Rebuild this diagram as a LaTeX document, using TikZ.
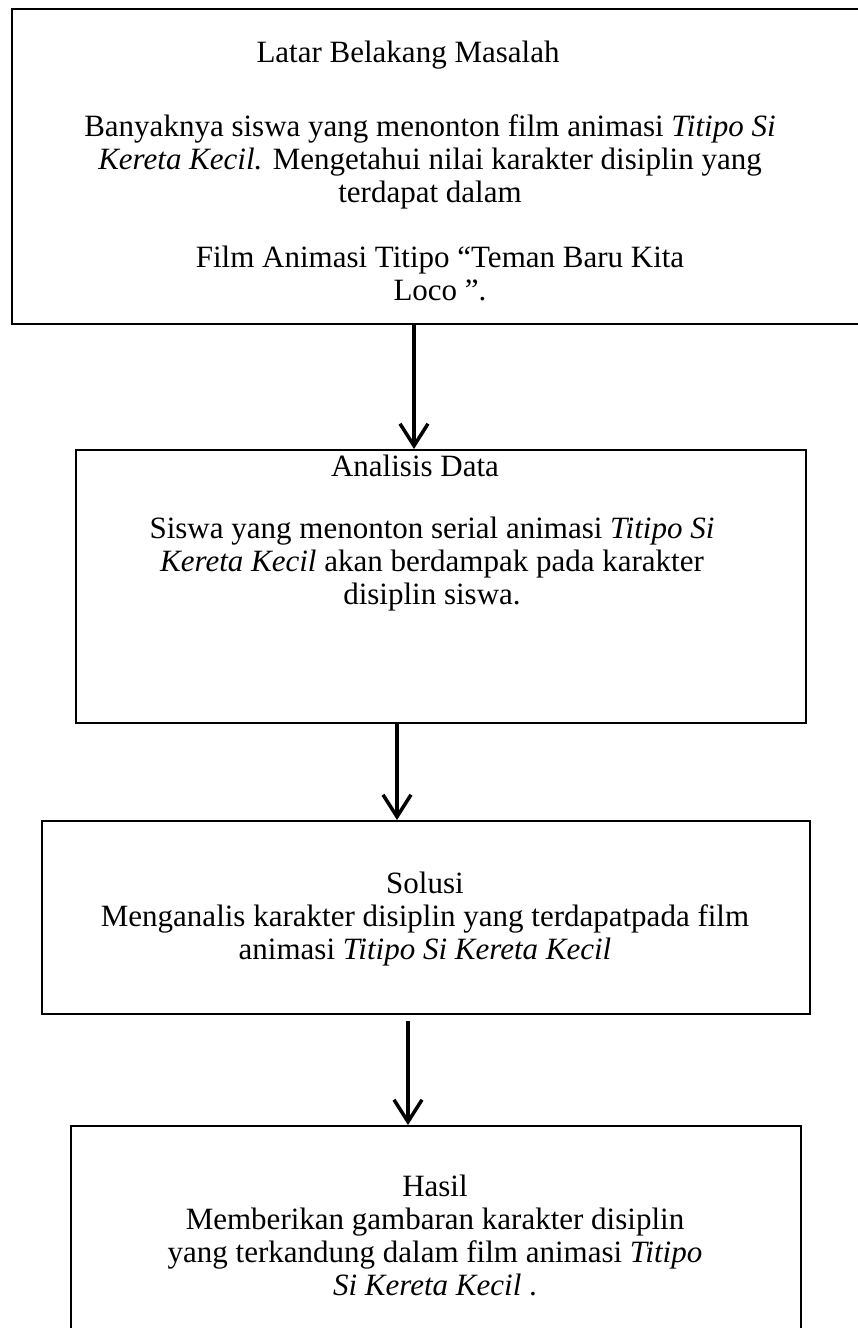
\documentclass[tikz,border=0pt]{standalone}
\usepackage{fontspec}
\setmainfont{Liberation Serif}
\usetikzlibrary{arrows.meta,positioning}

\begin{document}
\begin{tikzpicture}[x=1pt,y=-1pt,>={Straight Barb[length=22pt,width=28pt,line width=3.5pt]}]
\tikzset{
  kotak/.style={draw,line width=2pt,inner sep=0pt,anchor=north west},
  teks/.style={align=center,anchor=base,font=\fontsize{31}{33}\selectfont,inner sep=0pt},
  panah/.style={->,line width=4.5pt},
}
\useasboundingbox (0,0) rectangle (858,1328);
\clip (0,0) rectangle (858,1328);

% kotak
\node[kotak,minimum width=880pt,minimum height=315pt] (latar) at (11,8) {};
\node[kotak,minimum width=730pt,minimum height=273pt] (analisis) at (75,449) {};
\node[kotak,minimum width=768pt,minimum height=193pt] (solusi) at (41,820) {};
\node[kotak,minimum width=730pt,minimum height=220pt] (hasil) at (70,1125) {};

% isi kotak (anchor base = baris terakhir)
\node[teks] (t1) at (408,62) {Latar Belakang Masalah};
\node[teks] (t2) at (430,202) {Banyaknya siswa yang menonton film animasi \textit{Titipo Si}\\
  \textit{Kereta Kecil.} Mengetahui nilai karakter disiplin yang\\ terdapat dalam};
\node[teks] (t3) at (440,300) {Film Animasi Titipo “Teman Baru Kita\\ Loco ”.};
\node[teks] (t4) at (415,476) {Analisis Data};
\node[teks] (t5) at (432,604) {Siswa yang menonton serial animasi \textit{Titipo Si}\\
  \textit{Kereta Kecil} akan berdampak pada karakter\\ disiplin siswa.};
\node[teks] (t6) at (425,893) {Solusi};
\node[teks] (t7) at (425,959) {Menganalis karakter disiplin yang terdapatpada film\\
  animasi \textit{Titipo Si Kereta Kecil}};
\node[teks] (t8) at (435,1196) {Hasil};
\node[teks] (t9) at (435,1295) {Memberikan gambaran karakter disiplin\\
  yang terkandung dalam film animasi \textit{Titipo}\\ \textit{Si Kereta Kecil} .};

% panah
\coordinate (p1) at (414,0);
\coordinate (p2) at (397,0);
\coordinate (p3) at (408,0);
\draw[panah] (latar.south -| p1) -- (analisis.north -| p1);
\draw[panah] (analisis.south -| p2) -- (solusi.north -| p2);
\draw[panah] ([yshift=-6pt]solusi.south -| p3) -- (hasil.north -| p3);
\end{tikzpicture}
\end{document}
